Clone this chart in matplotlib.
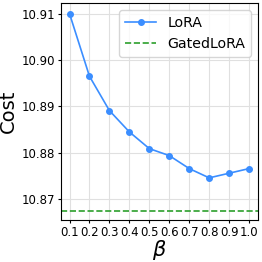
import numpy as np
import matplotlib.pyplot as plt

beta = [0.1, 0.2, 0.3, 0.4, 0.5, 0.6, 0.7, 0.8, 0.9, 1.0]
lora_cost = [10.9100, 10.8965, 10.8891, 10.8845, 10.8809, 10.8794, 10.8766, 10.8746, 10.8756, 10.8766]
gated_cost = 10.8675
xtick_labels = ['0.1', '0.2', '0.3', '0.4', '0.5', '0.6', '0.7', '0.8', '0.9', '1.0']

fig = plt.figure(figsize=(2.62, 2.62), dpi=100)
ax = fig.add_axes([0.231, 0.16, 0.754, 0.827])

ax.plot(beta, lora_cost, color='#3b8eff', marker='o', markersize=4, linewidth=1.2, label='LoRA')
ax.axhline(gated_cost, color='#2ca02c', linestyle='--', linewidth=1.2, label='GatedLoRA')

ax.set_xticks(beta)
ax.set_xticklabels(xtick_labels)
ax.set_yticks([10.87, 10.88, 10.89, 10.90, 10.91])
ax.set_yticklabels(['10.87', '10.88', '10.89', '10.90', '10.91'])
ax.set_ylim(10.8655, 10.9122)
ax.tick_params(labelsize=8.5, length=2, pad=2)
ax.grid(True, color='#e0e0e0', linewidth=0.8)
ax.set_axisbelow(True)

ax.set_xlabel(r'$\beta$', fontsize=15)
ax.set_ylabel('Cost', fontsize=14)
ax.xaxis.set_label_coords(0.5, -0.082)
ax.yaxis.set_label_coords(-0.215, 0.5)
ax.legend(fontsize=10.2, loc='upper right', handlelength=2.2)

fig.savefig('out.png', dpi=100)
